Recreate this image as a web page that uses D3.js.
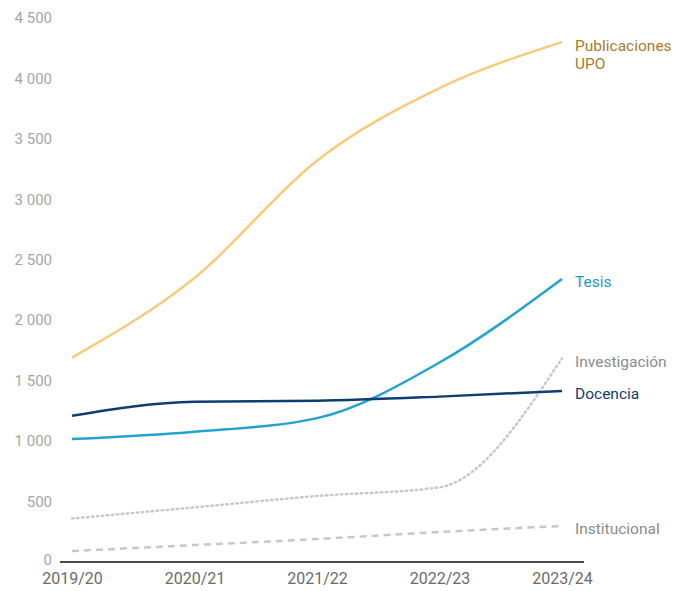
<!DOCTYPE html>
<html><head><meta charset="utf-8">
<script src="https://cdn.jsdelivr.net/npm/d3@7"></script>
<style>body{margin:0;background:#fff;font-family:Roboto,"Noto Sans",sans-serif;}</style>
</head><body>
<svg id="c" width="675" height="591"></svg>
<script>
const years = ["2019/20","2020/21","2021/22","2022/23","2023/24"];
const publicaciones = [1690, 2350, 3320, 3920, 4300];
const tesis = [1017, 1078, 1190, 1650, 2341];
const docencia = [1210, 1326, 1334, 1368, 1415];
const investigacion = [360, 452, 546, 618, 1685];
const institucional = [91, 140, 190, 248, 298];
const yTicks = [0,500,1000,1500,2000,2500,3000,3500,4000,4500];

const series = [
  {name:["Publicaciones","UPO"], values:publicaciones, color:"#f8cb7c", text:"#a67c2e", dash:null, width:2.5},
  {name:["Tesis"], values:tesis, color:"#23a4d0", text:"#1f9ac6", dash:null, width:2.5},
  {name:["Investigación"], values:investigacion, color:"#c8c8c8", text:"#8c8c8c", dash:"1.5,3.5", width:2.5, cap:"round"},
  {name:["Docencia"], values:docencia, color:"#0e3d72", text:"#0e3d72", dash:null, width:2.5},
  {name:["Institucional"], values:institucional, color:"#c8c8c8", text:"#8c8c8c", dash:"7,5", width:2.5}
];

const svg = d3.select("#c");
const x = d3.scalePoint().domain(years).range([72, 562]);
const y = d3.scaleLinear().domain([0,4500]).range([562, 18]);

// y tick labels
svg.append("g").selectAll("text").data(yTicks).join("text")
  .attr("x", 52).attr("y", d=>y(d)).attr("dy", d=> d===0 ? "0.2em" : "0.35em")
  .attr("text-anchor","end").attr("font-size",15).attr("fill","#a6a6a6")
  .text(d=>d3.format(",")(d).replace(/,/g," "));

// x axis
const xa = svg.append("g").attr("transform","translate(0,562)")
  .call(d3.axisBottom(x).tickSize(0).tickPadding(11));
xa.select(".domain").attr("d","M60,0H584").attr("stroke","#4a4a4a").attr("stroke-width",2);
xa.selectAll("text").attr("font-size",16).attr("fill","#6b6b6b").attr("font-family","Roboto, sans-serif");

const line = d3.line().x((d,i)=>x(years[i])).y(d=>y(d)).curve(d3.curveMonotoneX);

series.forEach(s=>{
  svg.append("path").attr("d", line(s.values)).attr("fill","none")
    .attr("stroke", s.color).attr("stroke-width", s.width)
    .attr("stroke-dasharray", s.dash).attr("stroke-linecap", s.cap||"butt");
  const last = s.values[s.values.length-1];
  const t = svg.append("text").attr("x", 575).attr("font-size",15.5).attr("fill", s.text);
  if (s.name.length>1) {
    t.attr("y", y(last)+9);
    s.name.forEach((n,i)=>t.append("tspan").attr("x",575).attr("dy", i? "1.15em":"0").text(n));
  } else {
    t.attr("y", y(last)+3).attr("dy","0.35em").text(s.name[0]);
  }
});
</script>
</body></html>
